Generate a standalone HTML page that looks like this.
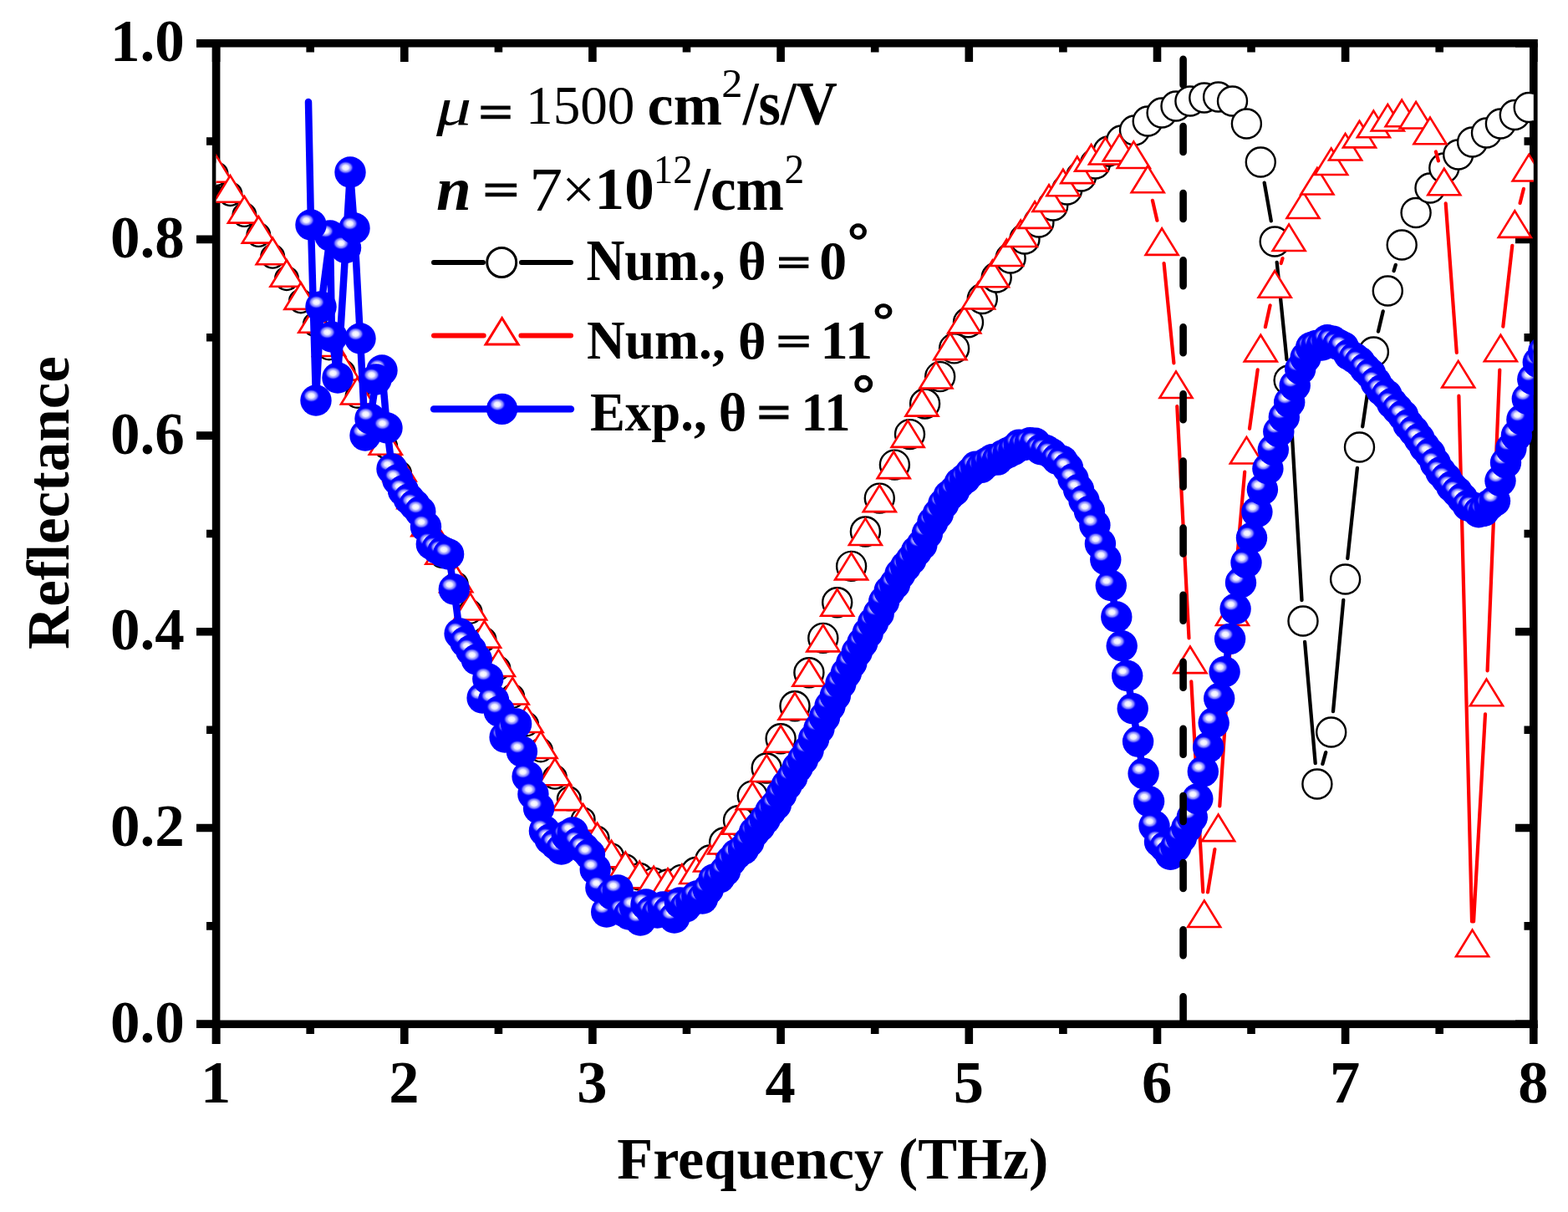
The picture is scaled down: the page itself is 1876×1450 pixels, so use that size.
<!DOCTYPE html><html><head><meta charset="utf-8"><title>Reflectance</title><style>html,body{margin:0;padding:0;background:#fff;overflow:hidden}svg{display:block}</style></head><body>
<svg xmlns="http://www.w3.org/2000/svg" width="1876" height="1450" viewBox="0 0 1876 1450">
<defs><clipPath id="clip"><rect x="258.6" y="51.7" width="1576.2" height="1173.5"/></clipPath><radialGradient id="hl"><stop offset="0" stop-color="#fff"/><stop offset="0.35" stop-color="#ececff"/><stop offset="0.7" stop-color="#8c8cff" stop-opacity="0.85"/><stop offset="1" stop-color="#00f" stop-opacity="0"/></radialGradient></defs>
<rect width="1876" height="1450" fill="#fff"/>
<g stroke="#000" stroke-width="9.6" fill="none" stroke-linecap="butt">
<path d="M235 51.7H1839.6"/>
<path d="M235 1225.2H1839.6"/>
<path d="M258.6 46.9V1249"/>
<path d="M1834.8 46.9V1230"/>
<path d="M258.6 1225.2V1249M258.6 51.7V74M483.8 1225.2V1249M483.8 51.7V74M708.9 1225.2V1249M708.9 51.7V74M934.1 1225.2V1249M934.1 51.7V74M1159.3 1225.2V1249M1159.3 51.7V74M1384.5 1225.2V1249M1384.5 51.7V74M1609.6 1225.2V1249M1609.6 51.7V74M1834.8 1225.2V1249M1834.8 51.7V74M371.2 1225.2V1237M371.2 51.7V62.5M596.4 1225.2V1237M596.4 51.7V62.5M821.5 1225.2V1237M821.5 51.7V62.5M1046.7 1225.2V1237M1046.7 51.7V62.5M1271.9 1225.2V1237M1271.9 51.7V62.5M1497 1225.2V1237M1497 51.7V62.5M1722.2 1225.2V1237M1722.2 51.7V62.5M235 1225.2H258.6M1834.8 1225.2H1813M247 1107.9H258.6M1834.8 1107.9H1823.5M235 990.5H258.6M1834.8 990.5H1813M247 873.2H258.6M1834.8 873.2H1823.5M235 755.8H258.6M1834.8 755.8H1813M247 638.5H258.6M1834.8 638.5H1823.5M235 521.1H258.6M1834.8 521.1H1813M247 403.8H258.6M1834.8 403.8H1823.5M235 286.4H258.6M1834.8 286.4H1813M247 169H258.6M1834.8 169H1823.5M235 51.7H258.6M1834.8 51.7H1813"/>
</g>
<g clip-path="url(#clip)">
<path d="M1512.7 218.6L1520.8 264.4M1527.7 313.9L1539.5 430.1M1543.5 480L1557.5 718M1561.1 767.9L1573.7 913.1M1582.4 913.9L1586.2 900.1M1595 851.1L1607.3 717.9M1612.3 668.1L1623.9 559.9M1630.2 510.3L1639.7 445.7M1649 396.6L1654.7 372.4M1667.6 324.1L1669.8 316.9" stroke="#000" stroke-width="4.3" fill="none" stroke-linecap="round"/>
<g fill="#fff" stroke="#000" stroke-width="2.4">
<circle cx="258.6" cy="208.2" r="13.8"/>
<circle cx="275.5" cy="232.2" r="13.8"/>
<circle cx="292.4" cy="257.1" r="13.8"/>
<circle cx="309.3" cy="281.1" r="13.8"/>
<circle cx="326.2" cy="306.8" r="13.8"/>
<circle cx="343" cy="333.2" r="13.8"/>
<circle cx="359.9" cy="360.4" r="13.8"/>
<circle cx="376.8" cy="388.2" r="13.8"/>
<circle cx="393.7" cy="416.5" r="13.8"/>
<circle cx="410.6" cy="445.1" r="13.8"/>
<circle cx="427.5" cy="474" r="13.8"/>
<circle cx="444.4" cy="503.5" r="13.8"/>
<circle cx="461.3" cy="534.2" r="13.8"/>
<circle cx="478.1" cy="566" r="13.8"/>
<circle cx="495" cy="598.6" r="13.8"/>
<circle cx="511.9" cy="631.7" r="13.8"/>
<circle cx="528.8" cy="665.2" r="13.8"/>
<circle cx="545.7" cy="698.7" r="13.8"/>
<circle cx="562.6" cy="732" r="13.8"/>
<circle cx="579.5" cy="765.1" r="13.8"/>
<circle cx="596.4" cy="799.5" r="13.8"/>
<circle cx="613.2" cy="833" r="13.8"/>
<circle cx="630.1" cy="866.5" r="13.8"/>
<circle cx="647" cy="897.5" r="13.8"/>
<circle cx="663.9" cy="929.8" r="13.8"/>
<circle cx="680.8" cy="955.6" r="13.8"/>
<circle cx="697.7" cy="980.4" r="13.8"/>
<circle cx="714.6" cy="1002.8" r="13.8"/>
<circle cx="731.5" cy="1023.8" r="14.4"/>
<circle cx="748.3" cy="1037.5" r="15"/>
<circle cx="765.2" cy="1048.7" r="15.7"/>
<circle cx="782.1" cy="1054.9" r="16.3"/>
<circle cx="799" cy="1057.4" r="16.9"/>
<circle cx="815.9" cy="1052.4" r="17.5"/>
<circle cx="832.8" cy="1043.5" r="17.5"/>
<circle cx="849.7" cy="1029" r="17.5"/>
<circle cx="866.6" cy="1008" r="17.5"/>
<circle cx="883.5" cy="981.7" r="17.5"/>
<circle cx="900.3" cy="952.1" r="17.5"/>
<circle cx="917.2" cy="919" r="17.5"/>
<circle cx="934.1" cy="883.8" r="17.5"/>
<circle cx="951" cy="844.7" r="17.5"/>
<circle cx="967.9" cy="804.8" r="17.5"/>
<circle cx="984.8" cy="763.4" r="17.5"/>
<circle cx="1001.7" cy="720.7" r="17.5"/>
<circle cx="1018.6" cy="677.4" r="17.5"/>
<circle cx="1035.4" cy="636" r="17.5"/>
<circle cx="1052.3" cy="596.1" r="17.5"/>
<circle cx="1070.4" cy="556.1" r="17.5"/>
<circle cx="1088.5" cy="519.6" r="17.5"/>
<circle cx="1106.6" cy="483" r="17.5"/>
<circle cx="1124.7" cy="450.6" r="17.5"/>
<circle cx="1141.6" cy="416.9" r="17.5"/>
<circle cx="1158.5" cy="385.8" r="17.5"/>
<circle cx="1175.3" cy="357.5" r="17.5"/>
<circle cx="1192.2" cy="332" r="17.5"/>
<circle cx="1209.1" cy="309" r="17.5"/>
<circle cx="1226" cy="286" r="17.5"/>
<circle cx="1242.9" cy="266" r="17.5"/>
<circle cx="1259.8" cy="246" r="17.5"/>
<circle cx="1276.7" cy="227" r="17.5"/>
<circle cx="1293.6" cy="211" r="17.5"/>
<circle cx="1310.4" cy="196" r="17.5"/>
<circle cx="1326.1" cy="181" r="17.5"/>
<circle cx="1341.8" cy="168" r="17.5"/>
<circle cx="1357.5" cy="156" r="17.5"/>
<circle cx="1373.2" cy="145" r="17.5"/>
<circle cx="1390.1" cy="135" r="17.5"/>
<circle cx="1407" cy="127" r="17.5"/>
<circle cx="1423.9" cy="121" r="17.5"/>
<circle cx="1440.8" cy="117" r="17.5"/>
<circle cx="1457.6" cy="116" r="17.5"/>
<circle cx="1474.5" cy="121" r="17.5"/>
<circle cx="1491.4" cy="148" r="17.5"/>
<circle cx="1508.3" cy="194" r="17.5"/>
<circle cx="1525.2" cy="289" r="17.5"/>
<circle cx="1542.1" cy="455" r="17.5"/>
<circle cx="1559" cy="743" r="17.5"/>
<circle cx="1575.9" cy="938" r="17.5"/>
<circle cx="1592.7" cy="876" r="17.5"/>
<circle cx="1609.6" cy="693" r="17.5"/>
<circle cx="1626.5" cy="535" r="17.5"/>
<circle cx="1643.4" cy="421" r="17.5"/>
<circle cx="1660.3" cy="348" r="17.5"/>
<circle cx="1677.2" cy="293" r="17.5"/>
<circle cx="1694.1" cy="254.5" r="17.5"/>
<circle cx="1711" cy="225" r="17.5"/>
<circle cx="1727.8" cy="201" r="17.5"/>
<circle cx="1744.7" cy="185" r="17.5"/>
<circle cx="1761.6" cy="170" r="17.5"/>
<circle cx="1778.5" cy="159" r="17.5"/>
<circle cx="1795.4" cy="148" r="17.5"/>
<circle cx="1812.3" cy="137.5" r="17.5"/>
<circle cx="1829.2" cy="128.5" r="17.5"/>
</g>
<path d="M1378.9 239.8L1384.4 263.7M1392.6 315L1404.4 434.3M1408.3 486.2L1422.5 763.3M1425.3 815.3L1439.3 1067.2M1445 1067.5L1453.4 1016M1459.3 964.4L1472.8 758.1M1476.8 706.3L1489.2 564.6M1495 512.9L1504.7 442.4M1513.9 391.2L1519.6 365.3M1532.7 315L1534.5 309.1M1717.9 181.5L1720.9 192.4M1729.7 243.4L1742.8 421.8M1745.4 473.7L1761 1102.4M1763.1 1102.4L1777 854.4M1779.6 802.4L1794.3 442.5M1798.3 390.7L1809.3 293.9M1818.6 242.9L1822.9 225.9" stroke="#f00" stroke-width="4.2" fill="none" stroke-linecap="round"/>
<g fill="#fff" stroke="#f00" stroke-width="2.6" stroke-linejoin="miter">
<path d="M258.6 186.1L278.1 217.7L239.1 217.7Z"/>
<path d="M275.5 210.1L295 241.7L256 241.7Z"/>
<path d="M292.4 235L311.9 266.6L272.9 266.6Z"/>
<path d="M309.3 259L328.8 290.6L289.8 290.6Z"/>
<path d="M326.2 284.7L345.7 316.3L306.7 316.3Z"/>
<path d="M343 311.2L362.5 342.8L323.5 342.8Z"/>
<path d="M359.9 338.3L379.4 369.9L340.4 369.9Z"/>
<path d="M376.8 366.1L396.3 397.7L357.3 397.7Z"/>
<path d="M393.7 394.4L413.2 426L374.2 426Z"/>
<path d="M410.6 423L430.1 454.6L391.1 454.6Z"/>
<path d="M427.5 451.9L447 483.5L408 483.5Z"/>
<path d="M444.4 481.5L463.9 513.1L424.9 513.1Z"/>
<path d="M461.3 512.1L480.8 543.7L441.8 543.7Z"/>
<path d="M478.1 543.9L497.6 575.5L458.6 575.5Z"/>
<path d="M495 576.5L514.5 608.1L475.5 608.1Z"/>
<path d="M511.9 609.7L531.4 641.3L492.4 641.3Z"/>
<path d="M528.8 643.2L548.3 674.8L509.3 674.8Z"/>
<path d="M545.7 676.7L565.2 708.3L526.2 708.3Z"/>
<path d="M562.6 709.9L582.1 741.5L543.1 741.5Z"/>
<path d="M579.5 743L599 774.6L560 774.6Z"/>
<path d="M596.4 777.4L615.9 809L576.9 809Z"/>
<path d="M613.2 810.9L632.7 842.5L593.7 842.5Z"/>
<path d="M630.1 844.4L649.6 876L610.6 876Z"/>
<path d="M647 875.4L666.5 907L627.5 907Z"/>
<path d="M663.9 907.7L683.4 939.3L644.4 939.3Z"/>
<path d="M680.8 937.5L700.3 969.1L661.3 969.1Z"/>
<path d="M697.7 962.3L717.2 993.9L678.2 993.9Z"/>
<path d="M714.6 984.7L734.1 1016.3L695.1 1016.3Z"/>
<path d="M731.5 1005.7L751 1037.3L712 1037.3Z"/>
<path d="M748.3 1019.4L767.8 1051L728.8 1051Z"/>
<path d="M765.2 1030.6L784.7 1062.2L745.7 1062.2Z"/>
<path d="M782.1 1036.8L801.6 1068.4L762.6 1068.4Z"/>
<path d="M799 1039.3L818.5 1070.9L779.5 1070.9Z"/>
<path d="M815.9 1034.3L835.4 1065.9L796.4 1065.9Z"/>
<path d="M832.8 1025.4L852.3 1057L813.3 1057Z"/>
<path d="M849.7 1010.9L869.2 1042.5L830.2 1042.5Z"/>
<path d="M866.6 989.9L886.1 1021.5L847.1 1021.5Z"/>
<path d="M883.5 966.1L903 997.7L864 997.7Z"/>
<path d="M900.3 936.5L919.8 968.1L880.8 968.1Z"/>
<path d="M917.2 903.4L936.7 935L897.7 935Z"/>
<path d="M934.1 868.2L953.6 899.8L914.6 899.8Z"/>
<path d="M951 829.1L970.5 860.7L931.5 860.7Z"/>
<path d="M967.9 789.2L987.4 820.8L948.4 820.8Z"/>
<path d="M984.8 747.8L1004.3 779.4L965.3 779.4Z"/>
<path d="M1001.7 705.1L1021.2 736.7L982.2 736.7Z"/>
<path d="M1018.6 661.8L1038.1 693.4L999.1 693.4Z"/>
<path d="M1035.4 620.4L1054.9 652L1015.9 652Z"/>
<path d="M1052.3 580.5L1071.8 612.1L1032.8 612.1Z"/>
<path d="M1069.2 540.5L1088.7 572.1L1049.7 572.1Z"/>
<path d="M1086.1 503.3L1105.6 534.9L1066.6 534.9Z"/>
<path d="M1103 466L1122.5 497.6L1083.5 497.6Z"/>
<path d="M1119.9 432.9L1139.4 464.5L1100.4 464.5Z"/>
<path d="M1136.8 398.5L1156.3 430.1L1117.3 430.1Z"/>
<path d="M1153.7 366.8L1173.2 398.4L1134.2 398.4Z"/>
<path d="M1170.5 337.8L1190 369.4L1151 369.4Z"/>
<path d="M1187.4 311.6L1206.9 343.2L1167.9 343.2Z"/>
<path d="M1204.3 286.4L1223.8 318L1184.8 318Z"/>
<path d="M1221.2 263.4L1240.7 295L1201.7 295Z"/>
<path d="M1238.1 241.3L1257.6 272.9L1218.6 272.9Z"/>
<path d="M1255 221.3L1274.5 252.9L1235.5 252.9Z"/>
<path d="M1271.9 202.7L1291.4 234.3L1252.4 234.3Z"/>
<path d="M1288.8 187.5L1308.3 219.1L1269.3 219.1Z"/>
<path d="M1305.6 173L1325.1 204.6L1286.1 204.6Z"/>
<path d="M1322.5 164.9L1342 196.5L1303 196.5Z"/>
<path d="M1339.4 160.9L1358.9 192.5L1319.9 192.5Z"/>
<path d="M1356.3 169.4L1375.8 201L1336.8 201Z"/>
<path d="M1373.2 198.6L1392.7 230.2L1353.7 230.2Z"/>
<path d="M1390.1 273.3L1409.6 304.9L1370.6 304.9Z"/>
<path d="M1407 444.4L1426.5 476L1387.5 476Z"/>
<path d="M1423.9 773.5L1443.4 805.1L1404.4 805.1Z"/>
<path d="M1440.8 1077.4L1460.2 1109L1421.2 1109Z"/>
<path d="M1457.6 974.5L1477.1 1006.1L1438.1 1006.1Z"/>
<path d="M1474.5 716.4L1494 748L1455 748Z"/>
<path d="M1491.4 522.9L1510.9 554.5L1471.9 554.5Z"/>
<path d="M1508.3 400.8L1527.8 432.4L1488.8 432.4Z"/>
<path d="M1525.2 324.1L1544.7 355.7L1505.7 355.7Z"/>
<path d="M1542.1 268.4L1561.6 300L1522.6 300Z"/>
<path d="M1559 229.4L1578.5 261L1539.5 261Z"/>
<path d="M1575.9 200.9L1595.4 232.5L1556.4 232.5Z"/>
<path d="M1592.7 177.4L1612.2 209L1573.2 209Z"/>
<path d="M1609.6 159.9L1629.1 191.5L1590.1 191.5Z"/>
<path d="M1626.5 144.8L1646 176.4L1607 176.4Z"/>
<path d="M1643.4 132.6L1662.9 164.2L1623.9 164.2Z"/>
<path d="M1660.3 124.9L1679.8 156.5L1640.8 156.5Z"/>
<path d="M1677.2 119.6L1696.7 151.2L1657.7 151.2Z"/>
<path d="M1694.1 121.9L1713.6 153.5L1674.6 153.5Z"/>
<path d="M1711 140.6L1730.5 172.2L1691.5 172.2Z"/>
<path d="M1727.8 201.7L1747.3 233.3L1708.3 233.3Z"/>
<path d="M1744.7 431.9L1764.2 463.5L1725.2 463.5Z"/>
<path d="M1761.6 1112.6L1781.1 1144.2L1742.1 1144.2Z"/>
<path d="M1778.5 812.6L1798 844.2L1759 844.2Z"/>
<path d="M1795.4 400.7L1814.9 432.3L1775.9 432.3Z"/>
<path d="M1812.3 252.3L1831.8 283.9L1792.8 283.9Z"/>
<path d="M1829.2 184.9L1848.7 216.5L1809.7 216.5Z"/>
</g>
<path d="M369 122L372 269L378 479L384 367L395 282L397 403L404 452L413.5 296.5L419 206L424 273L431 405L437 521L443 501L450 454L457 443L463 512L469 561L475.8 574L482.5 587L489.3 597L496 604L502.8 612L509.5 630L516.3 651L523 656L529.8 660L536.6 663L543.3 705L550.1 758L556.8 768L563.6 778L570.3 789L577.1 835L583.8 812L590.6 838L597.3 851L604.1 882L610.9 874L617.6 866L624.4 899L631.1 929L637.9 950L644.6 967L651.4 994L658.1 1004L664.9 1010L671.7 1016L678.4 1000L685.2 996L691.9 1008L698.7 1015L705.4 1022L712.2 1040L718.9 1062L725.7 1091L732.5 1070L739.2 1065L746 1090L752.7 1094L759.5 1085L766.2 1101L773 1082L779.7 1090L786.5 1092L793.2 1085L800 1090L806.8 1098L813.5 1080L820.3 1085L827 1078L833.8 1072L840.5 1075L847.3 1064L854 1052L860.8 1050L867.6 1042L874.3 1030L881.1 1022L889.5 1016L895.9 1007.3L902.4 995.8L908.9 988.9L915.3 980.2L921.8 970.5L928.3 962.9L934.8 950.3L941.2 939.4L947.7 930.1L954.2 918.2L960.6 908.6L967.1 897.7L973.6 884L980 871.5L986.5 858L993 844.7L999.4 832.1L1005.9 817.8L1012.4 805.2L1018.8 793.2L1025.3 780.1L1031.8 769.1L1038.2 757.3L1044.7 744.7L1051.2 734L1057.6 719.8L1064.1 707L1070.6 698.8L1077 686.7L1083.5 677.8L1090 669.6L1096.5 659.5L1102.9 651.8L1109.4 638.3L1115.9 624.7L1122.3 614.9L1128.8 602.9L1135.3 593L1141.7 587.4L1148.2 577.7L1154.7 572.5L1161.1 565.6L1167.6 558.1L1174.1 559.4L1180.5 553.8L1187 549.7L1193.5 550.1L1199.9 544.6L1206.4 541.4L1212.9 538.1L1219.3 532.1L1225.8 532.5L1232.3 529.7L1238.7 530.2L1245.2 537.8L1251.7 538.8L1258.2 542.8L1264.6 549.1L1271.1 551.5L1277.6 559.9L1284 572.9L1290.5 585.6L1297 598.9L1303.4 611.6L1309.9 628.2L1316.4 650.5L1322.8 669.5L1329.3 700.5L1335.8 738L1342.2 772.8L1348.7 808.5L1355.2 847.7L1361.6 887.1L1368.1 925.4L1374.6 958.7L1381 988.1L1387.5 1007L1394 1013.3L1400.4 1022.3L1406.9 1013.2L1413.4 1002.1L1419.9 990.5L1426.3 977.7L1432.8 955.7L1439.3 923L1445.7 894L1452.2 864.8L1458.7 835.6L1465.1 803.7L1471.6 764.4L1478.1 728.5L1484.5 696.9L1491 673.1L1497.5 643.5L1503.9 612.5L1510.4 585.7L1516.9 560.7L1523.3 538.1L1529.8 516.4L1536.3 499L1542.7 481.2L1549.2 461.2L1555.7 441.6L1562.1 427.8L1568.6 415.7L1575.1 413.4L1581.6 413L1588 406.8L1594.5 408.1L1601 412.1L1607.4 415.3L1613.9 424.2L1620.4 428.2L1626.8 433.1L1633.3 441L1639.8 447.3L1646.2 457.5L1652.7 466.9L1659.2 472.8L1665.6 482.5L1672.1 489.6L1678.6 497L1685 508.1L1691.5 515.7L1698 524.7L1704.4 534.7L1710.9 542.6L1717.4 554.3L1723.8 564.7L1730.3 572.2L1736.8 582.1L1743.3 588.5L1749.7 596.3L1756.2 604.9L1762.7 607.1L1769.1 612.8L1775.6 611.2L1782.1 604.1L1788.5 599.3L1795 575.2L1801.5 553.6L1807.9 536.5L1814.4 521L1820.9 502L1827.3 477.1L1833.8 453.8L1840.3 433.5L1846.7 420.6" stroke="#00f" stroke-width="8.5" fill="none" stroke-linecap="round" stroke-linejoin="round"/>
<circle cx="395" cy="282" r="18.7" fill="#00f"/><ellipse cx="389.5" cy="276.5" rx="10" ry="8" fill="url(#hl)"/>
<circle cx="413.5" cy="296.5" r="18.7" fill="#00f"/><ellipse cx="408" cy="291" rx="10" ry="8" fill="url(#hl)"/>
<circle cx="372" cy="269" r="18.7" fill="#00f"/><ellipse cx="366.5" cy="263.5" rx="10" ry="8" fill="url(#hl)"/>
<circle cx="378" cy="479" r="18.7" fill="#00f"/><ellipse cx="372.5" cy="473.5" rx="10" ry="8" fill="url(#hl)"/>
<circle cx="384" cy="367" r="18.7" fill="#00f"/><ellipse cx="378.5" cy="361.5" rx="10" ry="8" fill="url(#hl)"/>
<circle cx="397" cy="403" r="18.7" fill="#00f"/><ellipse cx="391.5" cy="397.5" rx="10" ry="8" fill="url(#hl)"/>
<circle cx="404" cy="452" r="18.7" fill="#00f"/><ellipse cx="398.5" cy="446.5" rx="10" ry="8" fill="url(#hl)"/>
<circle cx="419" cy="206" r="18.7" fill="#00f"/><ellipse cx="413.5" cy="200.5" rx="10" ry="8" fill="url(#hl)"/>
<circle cx="424" cy="273" r="18.7" fill="#00f"/><ellipse cx="418.5" cy="267.5" rx="10" ry="8" fill="url(#hl)"/>
<circle cx="431" cy="405" r="18.7" fill="#00f"/><ellipse cx="425.5" cy="399.5" rx="10" ry="8" fill="url(#hl)"/>
<circle cx="437" cy="521" r="18.7" fill="#00f"/><ellipse cx="431.5" cy="515.5" rx="10" ry="8" fill="url(#hl)"/>
<circle cx="443" cy="501" r="18.7" fill="#00f"/><ellipse cx="437.5" cy="495.5" rx="10" ry="8" fill="url(#hl)"/>
<circle cx="457" cy="443" r="18.7" fill="#00f"/><ellipse cx="451.5" cy="437.5" rx="10" ry="8" fill="url(#hl)"/>
<circle cx="450" cy="454" r="18.7" fill="#00f"/><ellipse cx="444.5" cy="448.5" rx="10" ry="8" fill="url(#hl)"/>
<circle cx="463" cy="512" r="18.7" fill="#00f"/><ellipse cx="457.5" cy="506.5" rx="10" ry="8" fill="url(#hl)"/>
<circle cx="469" cy="561" r="18.7" fill="#00f"/><ellipse cx="463.5" cy="555.5" rx="10" ry="8" fill="url(#hl)"/>
<circle cx="475.8" cy="574" r="18.7" fill="#00f"/><ellipse cx="470.3" cy="568.5" rx="10" ry="8" fill="url(#hl)"/>
<circle cx="482.5" cy="587" r="18.7" fill="#00f"/><ellipse cx="477" cy="581.5" rx="10" ry="8" fill="url(#hl)"/>
<circle cx="489.3" cy="597" r="18.7" fill="#00f"/><ellipse cx="483.8" cy="591.5" rx="10" ry="8" fill="url(#hl)"/>
<circle cx="496" cy="604" r="18.7" fill="#00f"/><ellipse cx="490.5" cy="598.5" rx="10" ry="8" fill="url(#hl)"/>
<circle cx="502.8" cy="612" r="18.7" fill="#00f"/><ellipse cx="497.3" cy="606.5" rx="10" ry="8" fill="url(#hl)"/>
<circle cx="509.5" cy="630" r="18.7" fill="#00f"/><ellipse cx="504" cy="624.5" rx="10" ry="8" fill="url(#hl)"/>
<circle cx="516.3" cy="651" r="18.7" fill="#00f"/><ellipse cx="510.8" cy="645.5" rx="10" ry="8" fill="url(#hl)"/>
<circle cx="523" cy="656" r="18.7" fill="#00f"/><ellipse cx="517.5" cy="650.5" rx="10" ry="8" fill="url(#hl)"/>
<circle cx="529.8" cy="660" r="18.7" fill="#00f"/><ellipse cx="524.3" cy="654.5" rx="10" ry="8" fill="url(#hl)"/>
<circle cx="536.6" cy="663" r="18.7" fill="#00f"/><ellipse cx="531.1" cy="657.5" rx="10" ry="8" fill="url(#hl)"/>
<circle cx="543.3" cy="705" r="18.7" fill="#00f"/><ellipse cx="537.8" cy="699.5" rx="10" ry="8" fill="url(#hl)"/>
<circle cx="550.1" cy="758" r="18.7" fill="#00f"/><ellipse cx="544.6" cy="752.5" rx="10" ry="8" fill="url(#hl)"/>
<circle cx="556.8" cy="768" r="18.7" fill="#00f"/><ellipse cx="551.3" cy="762.5" rx="10" ry="8" fill="url(#hl)"/>
<circle cx="563.6" cy="778" r="18.7" fill="#00f"/><ellipse cx="558.1" cy="772.5" rx="10" ry="8" fill="url(#hl)"/>
<circle cx="570.3" cy="789" r="18.7" fill="#00f"/><ellipse cx="564.8" cy="783.5" rx="10" ry="8" fill="url(#hl)"/>
<circle cx="577.1" cy="835" r="18.7" fill="#00f"/><ellipse cx="571.6" cy="829.5" rx="10" ry="8" fill="url(#hl)"/>
<circle cx="583.8" cy="812" r="18.7" fill="#00f"/><ellipse cx="578.3" cy="806.5" rx="10" ry="8" fill="url(#hl)"/>
<circle cx="590.6" cy="838" r="18.7" fill="#00f"/><ellipse cx="585.1" cy="832.5" rx="10" ry="8" fill="url(#hl)"/>
<circle cx="597.3" cy="851" r="18.7" fill="#00f"/><ellipse cx="591.8" cy="845.5" rx="10" ry="8" fill="url(#hl)"/>
<circle cx="604.1" cy="882" r="18.7" fill="#00f"/><ellipse cx="598.6" cy="876.5" rx="10" ry="8" fill="url(#hl)"/>
<circle cx="610.9" cy="874" r="18.7" fill="#00f"/><ellipse cx="605.4" cy="868.5" rx="10" ry="8" fill="url(#hl)"/>
<circle cx="617.6" cy="866" r="18.7" fill="#00f"/><ellipse cx="612.1" cy="860.5" rx="10" ry="8" fill="url(#hl)"/>
<circle cx="624.4" cy="899" r="18.7" fill="#00f"/><ellipse cx="618.9" cy="893.5" rx="10" ry="8" fill="url(#hl)"/>
<circle cx="631.1" cy="929" r="18.7" fill="#00f"/><ellipse cx="625.6" cy="923.5" rx="10" ry="8" fill="url(#hl)"/>
<circle cx="637.9" cy="950" r="18.7" fill="#00f"/><ellipse cx="632.4" cy="944.5" rx="10" ry="8" fill="url(#hl)"/>
<circle cx="644.6" cy="967" r="18.7" fill="#00f"/><ellipse cx="639.1" cy="961.5" rx="10" ry="8" fill="url(#hl)"/>
<circle cx="651.4" cy="994" r="18.7" fill="#00f"/><ellipse cx="645.9" cy="988.5" rx="10" ry="8" fill="url(#hl)"/>
<circle cx="658.1" cy="1004" r="18.7" fill="#00f"/><ellipse cx="652.6" cy="998.5" rx="10" ry="8" fill="url(#hl)"/>
<circle cx="664.9" cy="1010" r="18.7" fill="#00f"/><ellipse cx="659.4" cy="1004.5" rx="10" ry="8" fill="url(#hl)"/>
<circle cx="671.7" cy="1016" r="18.7" fill="#00f"/><ellipse cx="666.2" cy="1010.5" rx="10" ry="8" fill="url(#hl)"/>
<circle cx="678.4" cy="1000" r="18.7" fill="#00f"/><ellipse cx="672.9" cy="994.5" rx="10" ry="8" fill="url(#hl)"/>
<circle cx="685.2" cy="996" r="18.7" fill="#00f"/><ellipse cx="679.7" cy="990.5" rx="10" ry="8" fill="url(#hl)"/>
<circle cx="691.9" cy="1008" r="18.7" fill="#00f"/><ellipse cx="686.4" cy="1002.5" rx="10" ry="8" fill="url(#hl)"/>
<circle cx="698.7" cy="1015" r="18.7" fill="#00f"/><ellipse cx="693.2" cy="1009.5" rx="10" ry="8" fill="url(#hl)"/>
<circle cx="705.4" cy="1022" r="18.7" fill="#00f"/><ellipse cx="699.9" cy="1016.5" rx="10" ry="8" fill="url(#hl)"/>
<circle cx="712.2" cy="1040" r="18.7" fill="#00f"/><ellipse cx="706.7" cy="1034.5" rx="10" ry="8" fill="url(#hl)"/>
<circle cx="718.9" cy="1062" r="18.7" fill="#00f"/><ellipse cx="713.4" cy="1056.5" rx="10" ry="8" fill="url(#hl)"/>
<circle cx="725.7" cy="1091" r="18.7" fill="#00f"/><ellipse cx="720.2" cy="1085.5" rx="10" ry="8" fill="url(#hl)"/>
<circle cx="732.5" cy="1070" r="18.7" fill="#00f"/><ellipse cx="727" cy="1064.5" rx="10" ry="8" fill="url(#hl)"/>
<circle cx="739.2" cy="1065" r="18.7" fill="#00f"/><ellipse cx="733.7" cy="1059.5" rx="10" ry="8" fill="url(#hl)"/>
<circle cx="746" cy="1090" r="18.7" fill="#00f"/><ellipse cx="740.5" cy="1084.5" rx="10" ry="8" fill="url(#hl)"/>
<circle cx="752.7" cy="1094" r="18.7" fill="#00f"/><ellipse cx="747.2" cy="1088.5" rx="10" ry="8" fill="url(#hl)"/>
<circle cx="759.5" cy="1085" r="18.7" fill="#00f"/><ellipse cx="754" cy="1079.5" rx="10" ry="8" fill="url(#hl)"/>
<circle cx="766.2" cy="1101" r="18.7" fill="#00f"/><ellipse cx="760.7" cy="1095.5" rx="10" ry="8" fill="url(#hl)"/>
<circle cx="773" cy="1082" r="18.7" fill="#00f"/><ellipse cx="767.5" cy="1076.5" rx="10" ry="8" fill="url(#hl)"/>
<circle cx="779.7" cy="1090" r="18.7" fill="#00f"/><ellipse cx="774.2" cy="1084.5" rx="10" ry="8" fill="url(#hl)"/>
<circle cx="786.5" cy="1092" r="18.7" fill="#00f"/><ellipse cx="781" cy="1086.5" rx="10" ry="8" fill="url(#hl)"/>
<circle cx="793.2" cy="1085" r="18.7" fill="#00f"/><ellipse cx="787.7" cy="1079.5" rx="10" ry="8" fill="url(#hl)"/>
<circle cx="800" cy="1090" r="18.7" fill="#00f"/><ellipse cx="794.5" cy="1084.5" rx="10" ry="8" fill="url(#hl)"/>
<circle cx="806.8" cy="1098" r="18.7" fill="#00f"/><ellipse cx="801.3" cy="1092.5" rx="10" ry="8" fill="url(#hl)"/>
<circle cx="813.5" cy="1080" r="18.7" fill="#00f"/><ellipse cx="808" cy="1074.5" rx="10" ry="8" fill="url(#hl)"/>
<circle cx="820.3" cy="1085" r="18.7" fill="#00f"/><ellipse cx="814.8" cy="1079.5" rx="10" ry="8" fill="url(#hl)"/>
<circle cx="827" cy="1078" r="18.7" fill="#00f"/><ellipse cx="821.5" cy="1072.5" rx="10" ry="8" fill="url(#hl)"/>
<circle cx="833.8" cy="1072" r="18.7" fill="#00f"/><ellipse cx="828.3" cy="1066.5" rx="10" ry="8" fill="url(#hl)"/>
<circle cx="840.5" cy="1075" r="18.7" fill="#00f"/><ellipse cx="835" cy="1069.5" rx="10" ry="8" fill="url(#hl)"/>
<circle cx="847.3" cy="1064" r="18.7" fill="#00f"/><ellipse cx="841.8" cy="1058.5" rx="10" ry="8" fill="url(#hl)"/>
<circle cx="854" cy="1052" r="18.7" fill="#00f"/><ellipse cx="848.5" cy="1046.5" rx="10" ry="8" fill="url(#hl)"/>
<circle cx="860.8" cy="1050" r="18.7" fill="#00f"/><ellipse cx="855.3" cy="1044.5" rx="10" ry="8" fill="url(#hl)"/>
<circle cx="867.6" cy="1042" r="18.7" fill="#00f"/><ellipse cx="862.1" cy="1036.5" rx="10" ry="8" fill="url(#hl)"/>
<circle cx="874.3" cy="1030" r="18.7" fill="#00f"/><ellipse cx="868.8" cy="1024.5" rx="10" ry="8" fill="url(#hl)"/>
<circle cx="881.1" cy="1022" r="18.7" fill="#00f"/><ellipse cx="875.6" cy="1016.5" rx="10" ry="8" fill="url(#hl)"/>
<circle cx="889.5" cy="1016" r="18.7" fill="#00f"/><ellipse cx="884" cy="1010.5" rx="10" ry="8" fill="url(#hl)"/>
<circle cx="895.9" cy="1007.3" r="18.7" fill="#00f"/><ellipse cx="890.4" cy="1001.8" rx="10" ry="8" fill="url(#hl)"/>
<circle cx="902.4" cy="995.8" r="18.7" fill="#00f"/><ellipse cx="896.9" cy="990.3" rx="10" ry="8" fill="url(#hl)"/>
<circle cx="908.9" cy="988.9" r="18.7" fill="#00f"/><ellipse cx="903.4" cy="983.4" rx="10" ry="8" fill="url(#hl)"/>
<circle cx="915.3" cy="980.2" r="18.7" fill="#00f"/><ellipse cx="909.8" cy="974.7" rx="10" ry="8" fill="url(#hl)"/>
<circle cx="921.8" cy="970.5" r="18.7" fill="#00f"/><ellipse cx="916.3" cy="965" rx="10" ry="8" fill="url(#hl)"/>
<circle cx="928.3" cy="962.9" r="18.7" fill="#00f"/><ellipse cx="922.8" cy="957.4" rx="10" ry="8" fill="url(#hl)"/>
<circle cx="934.8" cy="950.3" r="18.7" fill="#00f"/><ellipse cx="929.3" cy="944.8" rx="10" ry="8" fill="url(#hl)"/>
<circle cx="941.2" cy="939.4" r="18.7" fill="#00f"/><ellipse cx="935.7" cy="933.9" rx="10" ry="8" fill="url(#hl)"/>
<circle cx="947.7" cy="930.1" r="18.7" fill="#00f"/><ellipse cx="942.2" cy="924.6" rx="10" ry="8" fill="url(#hl)"/>
<circle cx="954.2" cy="918.2" r="18.7" fill="#00f"/><ellipse cx="948.7" cy="912.7" rx="10" ry="8" fill="url(#hl)"/>
<circle cx="960.6" cy="908.6" r="18.7" fill="#00f"/><ellipse cx="955.1" cy="903.1" rx="10" ry="8" fill="url(#hl)"/>
<circle cx="967.1" cy="897.7" r="18.7" fill="#00f"/><ellipse cx="961.6" cy="892.2" rx="10" ry="8" fill="url(#hl)"/>
<circle cx="973.6" cy="884" r="18.7" fill="#00f"/><ellipse cx="968.1" cy="878.5" rx="10" ry="8" fill="url(#hl)"/>
<circle cx="980" cy="871.5" r="18.7" fill="#00f"/><ellipse cx="974.5" cy="866" rx="10" ry="8" fill="url(#hl)"/>
<circle cx="986.5" cy="858" r="18.7" fill="#00f"/><ellipse cx="981" cy="852.5" rx="10" ry="8" fill="url(#hl)"/>
<circle cx="993" cy="844.7" r="18.7" fill="#00f"/><ellipse cx="987.5" cy="839.2" rx="10" ry="8" fill="url(#hl)"/>
<circle cx="999.4" cy="832.1" r="18.7" fill="#00f"/><ellipse cx="993.9" cy="826.6" rx="10" ry="8" fill="url(#hl)"/>
<circle cx="1005.9" cy="817.8" r="18.7" fill="#00f"/><ellipse cx="1000.4" cy="812.3" rx="10" ry="8" fill="url(#hl)"/>
<circle cx="1012.4" cy="805.2" r="18.7" fill="#00f"/><ellipse cx="1006.9" cy="799.7" rx="10" ry="8" fill="url(#hl)"/>
<circle cx="1018.8" cy="793.2" r="18.7" fill="#00f"/><ellipse cx="1013.3" cy="787.7" rx="10" ry="8" fill="url(#hl)"/>
<circle cx="1025.3" cy="780.1" r="18.7" fill="#00f"/><ellipse cx="1019.8" cy="774.6" rx="10" ry="8" fill="url(#hl)"/>
<circle cx="1031.8" cy="769.1" r="18.7" fill="#00f"/><ellipse cx="1026.3" cy="763.6" rx="10" ry="8" fill="url(#hl)"/>
<circle cx="1038.2" cy="757.3" r="18.7" fill="#00f"/><ellipse cx="1032.7" cy="751.8" rx="10" ry="8" fill="url(#hl)"/>
<circle cx="1044.7" cy="744.7" r="18.7" fill="#00f"/><ellipse cx="1039.2" cy="739.2" rx="10" ry="8" fill="url(#hl)"/>
<circle cx="1051.2" cy="734" r="18.7" fill="#00f"/><ellipse cx="1045.7" cy="728.5" rx="10" ry="8" fill="url(#hl)"/>
<circle cx="1057.6" cy="719.8" r="18.7" fill="#00f"/><ellipse cx="1052.1" cy="714.3" rx="10" ry="8" fill="url(#hl)"/>
<circle cx="1064.1" cy="707" r="18.7" fill="#00f"/><ellipse cx="1058.6" cy="701.5" rx="10" ry="8" fill="url(#hl)"/>
<circle cx="1070.6" cy="698.8" r="18.7" fill="#00f"/><ellipse cx="1065.1" cy="693.3" rx="10" ry="8" fill="url(#hl)"/>
<circle cx="1077" cy="686.7" r="18.7" fill="#00f"/><ellipse cx="1071.5" cy="681.2" rx="10" ry="8" fill="url(#hl)"/>
<circle cx="1083.5" cy="677.8" r="18.7" fill="#00f"/><ellipse cx="1078" cy="672.3" rx="10" ry="8" fill="url(#hl)"/>
<circle cx="1090" cy="669.6" r="18.7" fill="#00f"/><ellipse cx="1084.5" cy="664.1" rx="10" ry="8" fill="url(#hl)"/>
<circle cx="1096.5" cy="659.5" r="18.7" fill="#00f"/><ellipse cx="1091" cy="654" rx="10" ry="8" fill="url(#hl)"/>
<circle cx="1102.9" cy="651.8" r="18.7" fill="#00f"/><ellipse cx="1097.4" cy="646.3" rx="10" ry="8" fill="url(#hl)"/>
<circle cx="1109.4" cy="638.3" r="18.7" fill="#00f"/><ellipse cx="1103.9" cy="632.8" rx="10" ry="8" fill="url(#hl)"/>
<circle cx="1115.9" cy="624.7" r="18.7" fill="#00f"/><ellipse cx="1110.4" cy="619.2" rx="10" ry="8" fill="url(#hl)"/>
<circle cx="1122.3" cy="614.9" r="18.7" fill="#00f"/><ellipse cx="1116.8" cy="609.4" rx="10" ry="8" fill="url(#hl)"/>
<circle cx="1128.8" cy="602.9" r="18.7" fill="#00f"/><ellipse cx="1123.3" cy="597.4" rx="10" ry="8" fill="url(#hl)"/>
<circle cx="1135.3" cy="593" r="18.7" fill="#00f"/><ellipse cx="1129.8" cy="587.5" rx="10" ry="8" fill="url(#hl)"/>
<circle cx="1141.7" cy="587.4" r="18.7" fill="#00f"/><ellipse cx="1136.2" cy="581.9" rx="10" ry="8" fill="url(#hl)"/>
<circle cx="1148.2" cy="577.7" r="18.7" fill="#00f"/><ellipse cx="1142.7" cy="572.2" rx="10" ry="8" fill="url(#hl)"/>
<circle cx="1154.7" cy="572.5" r="18.7" fill="#00f"/><ellipse cx="1149.2" cy="567" rx="10" ry="8" fill="url(#hl)"/>
<circle cx="1161.1" cy="565.6" r="18.7" fill="#00f"/><ellipse cx="1155.6" cy="560.1" rx="10" ry="8" fill="url(#hl)"/>
<circle cx="1167.6" cy="558.1" r="18.7" fill="#00f"/><ellipse cx="1162.1" cy="552.6" rx="10" ry="8" fill="url(#hl)"/>
<circle cx="1174.1" cy="559.4" r="18.7" fill="#00f"/><ellipse cx="1168.6" cy="553.9" rx="10" ry="8" fill="url(#hl)"/>
<circle cx="1180.5" cy="553.8" r="18.7" fill="#00f"/><ellipse cx="1175" cy="548.3" rx="10" ry="8" fill="url(#hl)"/>
<circle cx="1187" cy="549.7" r="18.7" fill="#00f"/><ellipse cx="1181.5" cy="544.2" rx="10" ry="8" fill="url(#hl)"/>
<circle cx="1193.5" cy="550.1" r="18.7" fill="#00f"/><ellipse cx="1188" cy="544.6" rx="10" ry="8" fill="url(#hl)"/>
<circle cx="1199.9" cy="544.6" r="18.7" fill="#00f"/><ellipse cx="1194.4" cy="539.1" rx="10" ry="8" fill="url(#hl)"/>
<circle cx="1206.4" cy="541.4" r="18.7" fill="#00f"/><ellipse cx="1200.9" cy="535.9" rx="10" ry="8" fill="url(#hl)"/>
<circle cx="1212.9" cy="538.1" r="18.7" fill="#00f"/><ellipse cx="1207.4" cy="532.6" rx="10" ry="8" fill="url(#hl)"/>
<circle cx="1219.3" cy="532.1" r="18.7" fill="#00f"/><ellipse cx="1213.8" cy="526.6" rx="10" ry="8" fill="url(#hl)"/>
<circle cx="1225.8" cy="532.5" r="18.7" fill="#00f"/><ellipse cx="1220.3" cy="527" rx="10" ry="8" fill="url(#hl)"/>
<circle cx="1232.3" cy="529.7" r="18.7" fill="#00f"/><ellipse cx="1226.8" cy="524.2" rx="10" ry="8" fill="url(#hl)"/>
<circle cx="1238.7" cy="530.2" r="18.7" fill="#00f"/><ellipse cx="1233.2" cy="524.7" rx="10" ry="8" fill="url(#hl)"/>
<circle cx="1245.2" cy="537.8" r="18.7" fill="#00f"/><ellipse cx="1239.7" cy="532.3" rx="10" ry="8" fill="url(#hl)"/>
<circle cx="1251.7" cy="538.8" r="18.7" fill="#00f"/><ellipse cx="1246.2" cy="533.3" rx="10" ry="8" fill="url(#hl)"/>
<circle cx="1258.2" cy="542.8" r="18.7" fill="#00f"/><ellipse cx="1252.7" cy="537.3" rx="10" ry="8" fill="url(#hl)"/>
<circle cx="1264.6" cy="549.1" r="18.7" fill="#00f"/><ellipse cx="1259.1" cy="543.6" rx="10" ry="8" fill="url(#hl)"/>
<circle cx="1271.1" cy="551.5" r="18.7" fill="#00f"/><ellipse cx="1265.6" cy="546" rx="10" ry="8" fill="url(#hl)"/>
<circle cx="1277.6" cy="559.9" r="18.7" fill="#00f"/><ellipse cx="1272.1" cy="554.4" rx="10" ry="8" fill="url(#hl)"/>
<circle cx="1284" cy="572.9" r="18.7" fill="#00f"/><ellipse cx="1278.5" cy="567.4" rx="10" ry="8" fill="url(#hl)"/>
<circle cx="1290.5" cy="585.6" r="18.7" fill="#00f"/><ellipse cx="1285" cy="580.1" rx="10" ry="8" fill="url(#hl)"/>
<circle cx="1297" cy="598.9" r="18.7" fill="#00f"/><ellipse cx="1291.5" cy="593.4" rx="10" ry="8" fill="url(#hl)"/>
<circle cx="1303.4" cy="611.6" r="18.7" fill="#00f"/><ellipse cx="1297.9" cy="606.1" rx="10" ry="8" fill="url(#hl)"/>
<circle cx="1309.9" cy="628.2" r="18.7" fill="#00f"/><ellipse cx="1304.4" cy="622.7" rx="10" ry="8" fill="url(#hl)"/>
<circle cx="1316.4" cy="650.5" r="18.7" fill="#00f"/><ellipse cx="1310.9" cy="645" rx="10" ry="8" fill="url(#hl)"/>
<circle cx="1322.8" cy="669.5" r="18.7" fill="#00f"/><ellipse cx="1317.3" cy="664" rx="10" ry="8" fill="url(#hl)"/>
<circle cx="1329.3" cy="700.5" r="18.7" fill="#00f"/><ellipse cx="1323.8" cy="695" rx="10" ry="8" fill="url(#hl)"/>
<circle cx="1335.8" cy="738" r="18.7" fill="#00f"/><ellipse cx="1330.3" cy="732.5" rx="10" ry="8" fill="url(#hl)"/>
<circle cx="1342.2" cy="772.8" r="18.7" fill="#00f"/><ellipse cx="1336.7" cy="767.3" rx="10" ry="8" fill="url(#hl)"/>
<circle cx="1348.7" cy="808.5" r="18.7" fill="#00f"/><ellipse cx="1343.2" cy="803" rx="10" ry="8" fill="url(#hl)"/>
<circle cx="1355.2" cy="847.7" r="18.7" fill="#00f"/><ellipse cx="1349.7" cy="842.2" rx="10" ry="8" fill="url(#hl)"/>
<circle cx="1361.6" cy="887.1" r="18.7" fill="#00f"/><ellipse cx="1356.1" cy="881.6" rx="10" ry="8" fill="url(#hl)"/>
<circle cx="1368.1" cy="925.4" r="18.7" fill="#00f"/><ellipse cx="1362.6" cy="919.9" rx="10" ry="8" fill="url(#hl)"/>
<circle cx="1374.6" cy="958.7" r="18.7" fill="#00f"/><ellipse cx="1369.1" cy="953.2" rx="10" ry="8" fill="url(#hl)"/>
<circle cx="1381" cy="988.1" r="18.7" fill="#00f"/><ellipse cx="1375.5" cy="982.6" rx="10" ry="8" fill="url(#hl)"/>
<circle cx="1387.5" cy="1007" r="18.7" fill="#00f"/><ellipse cx="1382" cy="1001.5" rx="10" ry="8" fill="url(#hl)"/>
<circle cx="1394" cy="1013.3" r="18.7" fill="#00f"/><ellipse cx="1388.5" cy="1007.8" rx="10" ry="8" fill="url(#hl)"/>
<circle cx="1400.4" cy="1022.3" r="18.7" fill="#00f"/><ellipse cx="1394.9" cy="1016.8" rx="10" ry="8" fill="url(#hl)"/>
<circle cx="1406.9" cy="1013.2" r="18.7" fill="#00f"/><ellipse cx="1401.4" cy="1007.7" rx="10" ry="8" fill="url(#hl)"/>
<circle cx="1413.4" cy="1002.1" r="18.7" fill="#00f"/><ellipse cx="1407.9" cy="996.6" rx="10" ry="8" fill="url(#hl)"/>
<circle cx="1419.9" cy="990.5" r="18.7" fill="#00f"/><ellipse cx="1414.4" cy="985" rx="10" ry="8" fill="url(#hl)"/>
<circle cx="1426.3" cy="977.7" r="18.7" fill="#00f"/><ellipse cx="1420.8" cy="972.2" rx="10" ry="8" fill="url(#hl)"/>
<circle cx="1432.8" cy="955.7" r="18.7" fill="#00f"/><ellipse cx="1427.3" cy="950.2" rx="10" ry="8" fill="url(#hl)"/>
<circle cx="1439.3" cy="923" r="18.7" fill="#00f"/><ellipse cx="1433.8" cy="917.5" rx="10" ry="8" fill="url(#hl)"/>
<circle cx="1445.7" cy="894" r="18.7" fill="#00f"/><ellipse cx="1440.2" cy="888.5" rx="10" ry="8" fill="url(#hl)"/>
<circle cx="1452.2" cy="864.8" r="18.7" fill="#00f"/><ellipse cx="1446.7" cy="859.3" rx="10" ry="8" fill="url(#hl)"/>
<circle cx="1458.7" cy="835.6" r="18.7" fill="#00f"/><ellipse cx="1453.2" cy="830.1" rx="10" ry="8" fill="url(#hl)"/>
<circle cx="1465.1" cy="803.7" r="18.7" fill="#00f"/><ellipse cx="1459.6" cy="798.2" rx="10" ry="8" fill="url(#hl)"/>
<circle cx="1471.6" cy="764.4" r="18.7" fill="#00f"/><ellipse cx="1466.1" cy="758.9" rx="10" ry="8" fill="url(#hl)"/>
<circle cx="1478.1" cy="728.5" r="18.7" fill="#00f"/><ellipse cx="1472.6" cy="723" rx="10" ry="8" fill="url(#hl)"/>
<circle cx="1484.5" cy="696.9" r="18.7" fill="#00f"/><ellipse cx="1479" cy="691.4" rx="10" ry="8" fill="url(#hl)"/>
<circle cx="1491" cy="673.1" r="18.7" fill="#00f"/><ellipse cx="1485.5" cy="667.6" rx="10" ry="8" fill="url(#hl)"/>
<circle cx="1497.5" cy="643.5" r="18.7" fill="#00f"/><ellipse cx="1492" cy="638" rx="10" ry="8" fill="url(#hl)"/>
<circle cx="1503.9" cy="612.5" r="18.7" fill="#00f"/><ellipse cx="1498.4" cy="607" rx="10" ry="8" fill="url(#hl)"/>
<circle cx="1510.4" cy="585.7" r="18.7" fill="#00f"/><ellipse cx="1504.9" cy="580.2" rx="10" ry="8" fill="url(#hl)"/>
<circle cx="1516.9" cy="560.7" r="18.7" fill="#00f"/><ellipse cx="1511.4" cy="555.2" rx="10" ry="8" fill="url(#hl)"/>
<circle cx="1523.3" cy="538.1" r="18.7" fill="#00f"/><ellipse cx="1517.8" cy="532.6" rx="10" ry="8" fill="url(#hl)"/>
<circle cx="1529.8" cy="516.4" r="18.7" fill="#00f"/><ellipse cx="1524.3" cy="510.9" rx="10" ry="8" fill="url(#hl)"/>
<circle cx="1536.3" cy="499" r="18.7" fill="#00f"/><ellipse cx="1530.8" cy="493.5" rx="10" ry="8" fill="url(#hl)"/>
<circle cx="1542.7" cy="481.2" r="18.7" fill="#00f"/><ellipse cx="1537.2" cy="475.7" rx="10" ry="8" fill="url(#hl)"/>
<circle cx="1549.2" cy="461.2" r="18.7" fill="#00f"/><ellipse cx="1543.7" cy="455.7" rx="10" ry="8" fill="url(#hl)"/>
<circle cx="1555.7" cy="441.6" r="18.7" fill="#00f"/><ellipse cx="1550.2" cy="436.1" rx="10" ry="8" fill="url(#hl)"/>
<circle cx="1562.1" cy="427.8" r="18.7" fill="#00f"/><ellipse cx="1556.6" cy="422.3" rx="10" ry="8" fill="url(#hl)"/>
<circle cx="1568.6" cy="415.7" r="18.7" fill="#00f"/><ellipse cx="1563.1" cy="410.2" rx="10" ry="8" fill="url(#hl)"/>
<circle cx="1575.1" cy="413.4" r="18.7" fill="#00f"/><ellipse cx="1569.6" cy="407.9" rx="10" ry="8" fill="url(#hl)"/>
<circle cx="1581.6" cy="413" r="18.7" fill="#00f"/><ellipse cx="1576.1" cy="407.5" rx="10" ry="8" fill="url(#hl)"/>
<circle cx="1588" cy="406.8" r="18.7" fill="#00f"/><ellipse cx="1582.5" cy="401.3" rx="10" ry="8" fill="url(#hl)"/>
<circle cx="1594.5" cy="408.1" r="18.7" fill="#00f"/><ellipse cx="1589" cy="402.6" rx="10" ry="8" fill="url(#hl)"/>
<circle cx="1601" cy="412.1" r="18.7" fill="#00f"/><ellipse cx="1595.5" cy="406.6" rx="10" ry="8" fill="url(#hl)"/>
<circle cx="1607.4" cy="415.3" r="18.7" fill="#00f"/><ellipse cx="1601.9" cy="409.8" rx="10" ry="8" fill="url(#hl)"/>
<circle cx="1613.9" cy="424.2" r="18.7" fill="#00f"/><ellipse cx="1608.4" cy="418.7" rx="10" ry="8" fill="url(#hl)"/>
<circle cx="1620.4" cy="428.2" r="18.7" fill="#00f"/><ellipse cx="1614.9" cy="422.7" rx="10" ry="8" fill="url(#hl)"/>
<circle cx="1626.8" cy="433.1" r="18.7" fill="#00f"/><ellipse cx="1621.3" cy="427.6" rx="10" ry="8" fill="url(#hl)"/>
<circle cx="1633.3" cy="441" r="18.7" fill="#00f"/><ellipse cx="1627.8" cy="435.5" rx="10" ry="8" fill="url(#hl)"/>
<circle cx="1639.8" cy="447.3" r="18.7" fill="#00f"/><ellipse cx="1634.3" cy="441.8" rx="10" ry="8" fill="url(#hl)"/>
<circle cx="1646.2" cy="457.5" r="18.7" fill="#00f"/><ellipse cx="1640.7" cy="452" rx="10" ry="8" fill="url(#hl)"/>
<circle cx="1652.7" cy="466.9" r="18.7" fill="#00f"/><ellipse cx="1647.2" cy="461.4" rx="10" ry="8" fill="url(#hl)"/>
<circle cx="1659.2" cy="472.8" r="18.7" fill="#00f"/><ellipse cx="1653.7" cy="467.3" rx="10" ry="8" fill="url(#hl)"/>
<circle cx="1665.6" cy="482.5" r="18.7" fill="#00f"/><ellipse cx="1660.1" cy="477" rx="10" ry="8" fill="url(#hl)"/>
<circle cx="1672.1" cy="489.6" r="18.7" fill="#00f"/><ellipse cx="1666.6" cy="484.1" rx="10" ry="8" fill="url(#hl)"/>
<circle cx="1678.6" cy="497" r="18.7" fill="#00f"/><ellipse cx="1673.1" cy="491.5" rx="10" ry="8" fill="url(#hl)"/>
<circle cx="1685" cy="508.1" r="18.7" fill="#00f"/><ellipse cx="1679.5" cy="502.6" rx="10" ry="8" fill="url(#hl)"/>
<circle cx="1691.5" cy="515.7" r="18.7" fill="#00f"/><ellipse cx="1686" cy="510.2" rx="10" ry="8" fill="url(#hl)"/>
<circle cx="1698" cy="524.7" r="18.7" fill="#00f"/><ellipse cx="1692.5" cy="519.2" rx="10" ry="8" fill="url(#hl)"/>
<circle cx="1704.4" cy="534.7" r="18.7" fill="#00f"/><ellipse cx="1698.9" cy="529.2" rx="10" ry="8" fill="url(#hl)"/>
<circle cx="1710.9" cy="542.6" r="18.7" fill="#00f"/><ellipse cx="1705.4" cy="537.1" rx="10" ry="8" fill="url(#hl)"/>
<circle cx="1717.4" cy="554.3" r="18.7" fill="#00f"/><ellipse cx="1711.9" cy="548.8" rx="10" ry="8" fill="url(#hl)"/>
<circle cx="1723.8" cy="564.7" r="18.7" fill="#00f"/><ellipse cx="1718.3" cy="559.2" rx="10" ry="8" fill="url(#hl)"/>
<circle cx="1730.3" cy="572.2" r="18.7" fill="#00f"/><ellipse cx="1724.8" cy="566.7" rx="10" ry="8" fill="url(#hl)"/>
<circle cx="1736.8" cy="582.1" r="18.7" fill="#00f"/><ellipse cx="1731.3" cy="576.6" rx="10" ry="8" fill="url(#hl)"/>
<circle cx="1743.3" cy="588.5" r="18.7" fill="#00f"/><ellipse cx="1737.8" cy="583" rx="10" ry="8" fill="url(#hl)"/>
<circle cx="1749.7" cy="596.3" r="18.7" fill="#00f"/><ellipse cx="1744.2" cy="590.8" rx="10" ry="8" fill="url(#hl)"/>
<circle cx="1756.2" cy="604.9" r="18.7" fill="#00f"/><ellipse cx="1750.7" cy="599.4" rx="10" ry="8" fill="url(#hl)"/>
<circle cx="1762.7" cy="607.1" r="18.7" fill="#00f"/><ellipse cx="1757.2" cy="601.6" rx="10" ry="8" fill="url(#hl)"/>
<circle cx="1769.1" cy="612.8" r="18.7" fill="#00f"/><ellipse cx="1763.6" cy="607.3" rx="10" ry="8" fill="url(#hl)"/>
<circle cx="1775.6" cy="611.2" r="18.7" fill="#00f"/><ellipse cx="1770.1" cy="605.7" rx="10" ry="8" fill="url(#hl)"/>
<circle cx="1782.1" cy="604.1" r="18.7" fill="#00f"/><ellipse cx="1776.6" cy="598.6" rx="10" ry="8" fill="url(#hl)"/>
<circle cx="1788.5" cy="599.3" r="18.7" fill="#00f"/><ellipse cx="1783" cy="593.8" rx="10" ry="8" fill="url(#hl)"/>
<circle cx="1795" cy="575.2" r="18.7" fill="#00f"/><ellipse cx="1789.5" cy="569.7" rx="10" ry="8" fill="url(#hl)"/>
<circle cx="1801.5" cy="553.6" r="18.7" fill="#00f"/><ellipse cx="1796" cy="548.1" rx="10" ry="8" fill="url(#hl)"/>
<circle cx="1807.9" cy="536.5" r="18.7" fill="#00f"/><ellipse cx="1802.4" cy="531" rx="10" ry="8" fill="url(#hl)"/>
<circle cx="1814.4" cy="521" r="18.7" fill="#00f"/><ellipse cx="1808.9" cy="515.5" rx="10" ry="8" fill="url(#hl)"/>
<circle cx="1820.9" cy="502" r="18.7" fill="#00f"/><ellipse cx="1815.4" cy="496.5" rx="10" ry="8" fill="url(#hl)"/>
<circle cx="1827.3" cy="477.1" r="18.7" fill="#00f"/><ellipse cx="1821.8" cy="471.6" rx="10" ry="8" fill="url(#hl)"/>
<circle cx="1833.8" cy="453.8" r="18.7" fill="#00f"/><ellipse cx="1828.3" cy="448.3" rx="10" ry="8" fill="url(#hl)"/>
<circle cx="1840.3" cy="433.5" r="18.7" fill="#00f"/><ellipse cx="1834.8" cy="428" rx="10" ry="8" fill="url(#hl)"/>
<circle cx="1846.7" cy="420.6" r="18.7" fill="#00f"/><ellipse cx="1841.2" cy="415.1" rx="10" ry="8" fill="url(#hl)"/>
</g>
<path d="M1415.6 70.9V1226" stroke="#000" stroke-width="8.6" stroke-dasharray="30.9 49.2" stroke-linecap="round" fill="none"/>
<g font-family="'Liberation Serif','Times New Roman',serif" font-weight="bold" font-size="71" fill="#000">
<text x="220.8" y="1246.7" text-anchor="end">0.0</text>
<text x="220.8" y="1012" text-anchor="end">0.2</text>
<text x="220.8" y="777.3" text-anchor="end">0.4</text>
<text x="220.8" y="542.6" text-anchor="end">0.6</text>
<text x="220.8" y="307.9" text-anchor="end">0.8</text>
<text x="220.8" y="73.2" text-anchor="end">1.0</text>
<text x="258.1" y="1318.5" text-anchor="middle" font-size="72.5">1</text>
<text x="483.3" y="1318.5" text-anchor="middle" font-size="72.5">2</text>
<text x="708.4" y="1318.5" text-anchor="middle" font-size="72.5">3</text>
<text x="933.6" y="1318.5" text-anchor="middle" font-size="72.5">4</text>
<text x="1158.8" y="1318.5" text-anchor="middle" font-size="72.5">5</text>
<text x="1384" y="1318.5" text-anchor="middle" font-size="72.5">6</text>
<text x="1609.1" y="1318.5" text-anchor="middle" font-size="72.5">7</text>
<text x="1834.3" y="1318.5" text-anchor="middle" font-size="72.5">8</text>
</g>
<text x="996.3" y="1409.6" text-anchor="middle" font-family="'Liberation Serif','Times New Roman',serif" font-weight="bold" font-size="70.3">Frequency (THz)</text>
<text transform="translate(82 601.7) rotate(-90)" text-anchor="middle" font-family="'Liberation Serif','Times New Roman',serif" font-weight="bold" font-size="71">Reflectance</text>
<g font-family="'Liberation Serif','Times New Roman',serif" fill="#000">
<text transform="translate(521.9 148.84) scale(1.3312 1)" font-size="63.13" font-weight="normal" font-style="italic">μ</text>
<text transform="translate(572.32 152.11) scale(1.3614 1)" font-size="54.07" font-weight="bold" font-style="normal" stroke="#000" stroke-width="0.8">=</text>
<text transform="translate(629.03 148.29) scale(0.9992 1)" font-size="65.29" font-weight="normal" font-style="normal">1500</text>
<text transform="translate(774.6 148.61) scale(1.0078 1)" font-size="69.38" font-weight="bold" font-style="normal">cm</text>
<text transform="translate(863.28 116.22) scale(1.0571 1)" font-size="47.76" font-weight="normal" font-style="normal">2</text>
<text transform="translate(888.68 148.54) scale(0.9277 1)" font-size="73.13" font-weight="bold" font-style="normal">/s/V</text>
<text transform="translate(522.1 251.1) scale(1.0291 1)" font-size="72.98" font-weight="bold" font-style="italic">n</text>
<text transform="translate(577.29 244.96) scale(1.4284 1)" font-size="54.81" font-weight="bold" font-style="normal" stroke="#000" stroke-width="0.8">=</text>
<text transform="translate(633.22 251.56) scale(1.0742 1)" font-size="74.24" font-weight="normal" font-style="normal">7</text>
<text transform="translate(672.34 250.47) scale(1.0035 1)" font-size="70.5" font-weight="normal" font-style="normal">×</text>
<text transform="translate(711.62 249.66) scale(0.9836 1)" font-size="72.21" font-weight="bold" font-style="normal">10</text>
<text transform="translate(781.77 218.71) scale(0.9509 1)" font-size="49.4" font-weight="normal" font-style="normal">12</text>
<text transform="translate(830.79 250.8) scale(0.9169 1)" font-size="75.07" font-weight="bold" font-style="normal">/cm</text>
<text transform="translate(938.6 218.69) scale(0.929 1)" font-size="51.19" font-weight="normal" font-style="normal">2</text>
<text transform="translate(701.43 334.95) scale(0.9219 1)" font-size="69.0" font-weight="bold" font-style="normal">Num.,</text>
<text transform="translate(882.7 334.37) scale(1.0394 1)" font-size="62.54" font-weight="bold" font-style="normal">θ</text>
<text transform="translate(928.93 328.68) scale(1.5484 1)" font-size="47.41" font-weight="bold" font-style="normal" stroke="#000" stroke-width="0.8">=</text>
<text transform="translate(980.27 334.28) scale(0.993 1)" font-size="66.18" font-weight="bold" font-style="normal">0</text>
<text transform="translate(1014.27 307.84) scale(1.0621 1)" font-size="59.0" font-weight="bold" font-style="normal" stroke="#000" stroke-width="1.3">°</text>
<text transform="translate(701.93 429.16) scale(0.9589 1)" font-size="66.25" font-weight="bold" font-style="normal">Num.,</text>
<text transform="translate(882.93 428.79) scale(1.0546 1)" font-size="60.99" font-weight="bold" font-style="normal">θ</text>
<text transform="translate(928.22 423.58) scale(1.545 1)" font-size="48.89" font-weight="bold" font-style="normal" stroke="#000" stroke-width="0.8">=</text>
<text transform="translate(981.4 429.4) scale(1.0105 1)" font-size="65.61" font-weight="bold" font-style="normal">11</text>
<text transform="translate(1044.3 402.04) scale(1.1163 1)" font-size="57.33" font-weight="bold" font-style="normal" stroke="#000" stroke-width="1.3">°</text>
<text transform="translate(705.94 514.5) scale(0.97 1)" font-size="64.77" font-weight="bold" font-style="normal">Exp.,</text>
<text transform="translate(859.63 514.67) scale(1.0171 1)" font-size="63.24" font-weight="bold" font-style="normal">θ</text>
<text transform="translate(905.14 512.06) scale(1.3001 1)" font-size="56.3" font-weight="bold" font-style="normal" stroke="#000" stroke-width="0.8">=</text>
<text transform="translate(958.39 515.0) scale(0.9475 1)" font-size="66.06" font-weight="bold" font-style="normal">11</text>
<text transform="translate(1019.82 491.56) scale(1.0518 1)" font-size="64.33" font-weight="bold" font-style="normal" stroke="#000" stroke-width="1.3">°</text>
</g>
<path d="M519 314H578M624 314H683" stroke="#000" stroke-width="6" stroke-linecap="round"/>
<circle cx="600.2" cy="314" r="17.5" fill="#fff" stroke="#000" stroke-width="3"/>
<path d="M519 401.6H578.7M623.4 401.6H683" stroke="#f00" stroke-width="6" stroke-linecap="round"/>
<path d="M600.6 380.5L620.1 412.1L581.1 412.1Z" fill="#fff" stroke="#f00" stroke-width="3"/>
<path d="M519 489.4H683" stroke="#00f" stroke-width="8.3" stroke-linecap="round"/>
<circle cx="600.6" cy="489.4" r="18.7" fill="#00f"/><ellipse cx="595.1" cy="483.9" rx="10" ry="8" fill="url(#hl)"/>
</svg></body></html>
